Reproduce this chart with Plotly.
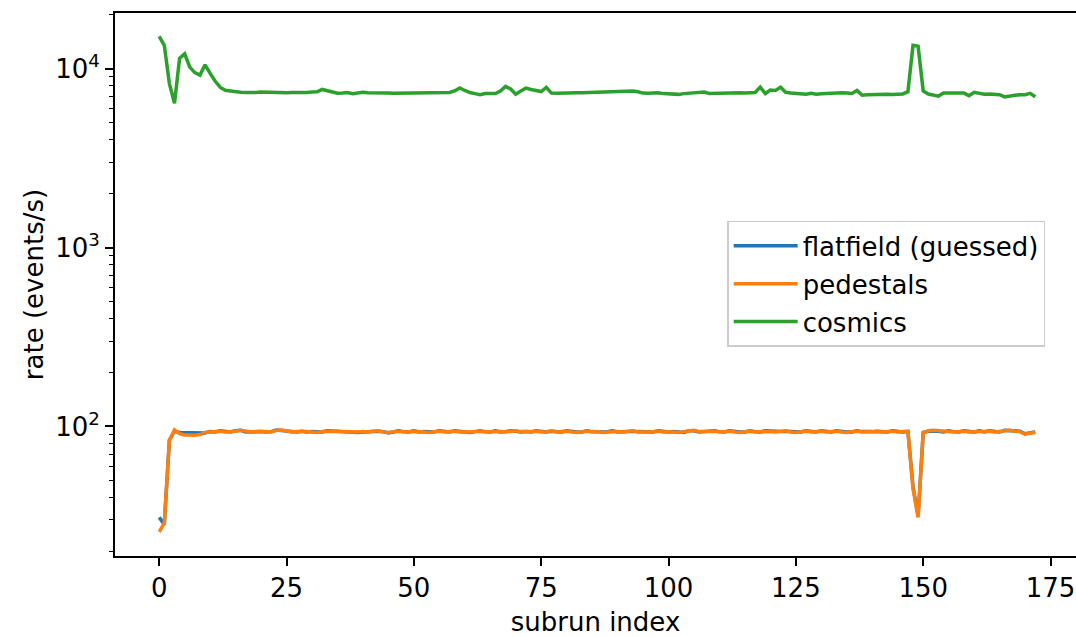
import plotly.graph_objects as go

# ---- data ----
flatfield = [
    31.0, 28.3, 84.0, 94.0, 92.5, 92.5, 93.0, 92.5, 93.0, 92.0,
    93.5, 93.0, 94.5, 93.5, 93.0, 94.5, 95.0, 93.0, 93.5, 94.0,
    93.5, 93.0, 93.5, 95.5, 95.0, 94.5, 93.5, 93.0, 94.0, 93.0,
    93.5, 93.0, 93.0, 94.5, 94.0, 94.5, 93.0, 93.5, 93.0, 92.5,
    93.0, 93.5, 93.5, 94.0, 93.5, 92.0, 93.0, 94.5, 93.5, 93.0,
    94.5, 93.0, 93.5, 93.0, 93.0, 94.5, 93.5, 93.0, 94.5, 93.5,
    93.0, 92.5, 93.5, 94.5, 93.5, 93.0, 94.5, 93.0, 93.5, 94.5,
    94.0, 93.0, 93.5, 93.0, 94.5, 93.5, 93.0, 94.0, 93.5, 93.0,
    94.5, 93.5, 93.0, 93.0, 94.5, 93.5, 93.0, 93.0, 93.5, 94.5,
    93.0, 93.5, 94.5, 94.0, 93.5, 93.0, 92.5, 93.0, 94.5, 93.5,
    93.0, 93.5, 93.0, 92.5, 94.5, 94.5, 93.0, 93.5, 93.0, 94.5,
    93.5, 93.0, 94.5, 93.5, 93.0, 93.0, 94.5, 93.5, 93.0, 94.5,
    94.0, 93.5, 93.5, 94.0, 93.5, 93.0, 93.0, 94.5, 93.5, 93.0,
    94.5, 93.5, 93.0, 94.5, 93.5, 93.0, 93.0, 94.5, 93.5, 93.0,
    93.5, 94.0, 93.5, 93.0, 94.5, 93.5, 93.0, 93.5,
    46.0, 31.5,
    92.5, 94.0, 94.5, 94.0, 93.0, 94.5, 93.5, 93.0, 94.5, 93.5,
    93.0, 94.5, 93.0, 94.5, 93.5, 93.0, 95.0, 94.5, 93.5, 94.0,
    91.0, 92.5, 93.0,
]

pedestals = [
    25.7, 28.8, 83.5, 95.5, 91.0, 89.5, 89.5, 89.2, 90.0, 92.5,
    93.0, 93.5, 94.0, 93.0, 93.0, 94.0, 95.0, 93.5, 93.0, 93.5,
    94.0, 93.5, 93.0, 95.0, 95.5, 94.0, 93.0, 93.5, 94.0, 93.5,
    93.0, 92.5, 93.5, 94.0, 94.5, 94.0, 93.5, 93.0, 92.5, 93.0,
    93.5, 93.0, 94.0, 94.5, 93.0, 92.5, 93.5, 94.0, 93.0, 93.5,
    94.0, 93.5, 93.0, 92.5, 93.5, 94.0, 93.0, 93.5, 94.0, 93.0,
    92.5, 93.0, 93.5, 94.0, 93.0, 93.5, 94.0, 93.5, 93.0, 94.0,
    94.5, 93.5, 93.0, 93.5, 94.0, 93.0, 93.5, 94.5, 93.0, 93.5,
    94.0, 93.0, 92.5, 93.5, 94.0, 93.0, 93.5, 92.5, 93.0, 94.0,
    93.5, 93.0, 94.0, 94.5, 93.0, 92.5, 93.0, 93.5, 94.0, 93.0,
    93.5, 93.0, 92.5, 93.0, 94.0, 95.0, 93.5, 93.0, 93.5, 94.0,
    93.0, 93.5, 94.0, 93.0, 92.5, 93.5, 94.0, 93.0, 93.5, 94.0,
    93.5, 93.0, 94.0, 94.5, 93.0, 92.5, 93.5, 94.0, 93.0, 93.5,
    94.0, 93.0, 93.5, 94.0, 93.0, 92.5, 93.5, 94.0, 93.0, 93.5,
    94.0, 93.5, 93.0, 93.5, 94.0, 93.0, 93.5, 94.0,
    45.0, 31.0,
    92.0, 94.5, 95.0, 94.5, 93.5, 94.0, 93.0, 93.5, 94.0, 93.0,
    93.5, 94.0, 93.5, 94.0, 93.0, 93.5, 94.5, 95.0, 94.0, 93.5,
    90.5, 92.0, 92.8,
]

cosmics = [
    15150, 13500, 8250, 6400, 11400, 12100, 10200, 9500, 9200, 10500,
    9400, 8500, 7850, 7560, 7500, 7400,
    7380, 7360, 7340, 7350, 7400, 7380, 7340, 7320, 7330, 7340,
    7350, 7330, 7320, 7360, 7400, 7420,
    7650, 7550, 7400, 7280, 7300, 7350, 7250, 7330, 7380, 7340,
    7310, 7300, 7320, 7300, 7290, 7300,
    7310, 7320, 7340, 7350, 7340, 7320, 7300, 7310, 7330, 7360,
    7500, 7800, 7550, 7350, 7250, 7150,
    7250, 7250, 7250, 7500, 7950, 7700, 7200, 7500, 7780, 7650,
    7550, 7450, 7850, 7300,
    7280, 7270, 7300, 7310, 7320, 7340, 7350, 7360, 7380, 7400,
    7420, 7430, 7440, 7460, 7480, 7500, 7420, 7300,
    7280, 7300, 7320, 7250, 7200, 7190, 7180, 7250, 7300, 7320,
    7380, 7400, 7260, 7280, 7300, 7280, 7260, 7300, 7320, 7300,
    7320,
    7350, 7880, 7260, 7600, 7550, 7880, 7380, 7300, 7280, 7250,
    7200, 7280, 7190, 7230, 7260, 7300, 7300, 7320,
    7300, 7270, 7550, 7110, 7150, 7170, 7200, 7220, 7180, 7170,
    7190, 7220, 7430,
    13500, 13350,
    7500, 7210, 7150, 7020, 7300, 7280, 7290, 7300, 7300, 7060,
    7370, 7250, 7200, 7220, 7180, 7150, 6950, 7050, 7100, 7150,
    7150, 7280, 6970,
]

subrun = list(range(len(cosmics)))

series_names = ["flatfield (guessed)", "pedestals", "cosmics"]
series_colors = ["#1f77b4", "#ff7f0e", "#2ca02c"]

x_ticks = [0, 25, 50, 75, 100, 125, 150, 175]
y_ticks = [100, 1000, 10000]
y_tick_text = ["10<sup>2</sup>", "10<sup>3</sup>", "10<sup>4</sup>"]
y_minor = [m * d for d in (10, 100, 1000, 10000) for m in range(2, 10)]

FONT = "DejaVu Sans"
FS = 26

fig = go.Figure()
for name, vals, col in zip(series_names, [flatfield, pedestals, cosmics], series_colors):
    fig.add_trace(go.Scatter(
        x=subrun[:len(vals)], y=vals, mode="lines", name=name,
        line=dict(color=col, width=3.5), legendgroup=name,
    ))

# invisible trace carrying the minor-tick axis
fig.add_trace(go.Scatter(x=[None], y=[None], yaxis="y2", showlegend=False, hoverinfo="skip"))

yr = [1.2755, 4.311]

fig.update_layout(
    width=1076, height=637,
    margin=dict(l=115, r=0, t=13, b=81),
    paper_bgcolor="white", plot_bgcolor="white",
    font=dict(family=FONT, size=FS, color="black"),
    showlegend=True,
    legend=dict(
        x=0.637, y=0.617, xanchor="left", yanchor="top",
        bgcolor="rgba(255,255,255,0.8)", bordercolor="#cccccc", borderwidth=1.5,
        font=dict(family=FONT, size=FS, color="black"),
        tracegroupgap=1, traceorder="grouped", itemwidth=64,
    ),
    xaxis=dict(
        range=[-8.68, 180.0], tickvals=x_ticks, ticks="outside", ticklen=8, tickwidth=1.9,
        tickcolor="black", showline=True, linecolor="black", linewidth=1.9, mirror=True,
        showgrid=False, zeroline=False,
        title=dict(text="subrun index", font=dict(family=FONT, size=FS), standoff=12),
        tickfont=dict(family=FONT, size=FS),
    ),
    yaxis=dict(
        type="log", range=yr, tickvals=y_ticks, ticktext=y_tick_text,
        ticks="outside", ticklen=8, tickwidth=1.9, tickcolor="black",
        showline=True, linecolor="black", linewidth=1.9, mirror=False,
        showgrid=False, zeroline=False,
        title=dict(text="rate (events/s)", font=dict(family=FONT, size=FS), standoff=4),
        tickfont=dict(family=FONT, size=FS),
    ),
    yaxis2=dict(
        type="log", range=yr, overlaying="y", side="left", tickvals=y_minor,
        ticks="outside", ticklen=4.7, tickwidth=1.4, tickcolor="black",
        showticklabels=False, showline=False, showgrid=False, zeroline=False,
    ),
)

fig.write_html(
    "out.html",
    config={"displayModeBar": False},
    post_script="document.body.style.margin='0';document.body.style.padding='0';",
)
